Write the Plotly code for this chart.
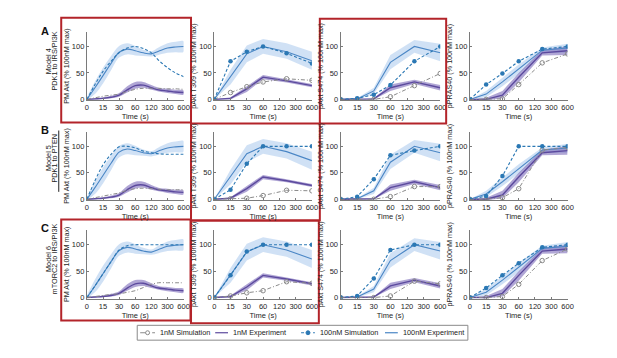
import numpy as np
import plotly.graph_objects as go

W, H = 617, 358
tick_s = [0, 15, 30, 60, 120, 300, 600]
tick_labels = ['0', '15', '30', '60', '120', '300', '600']
y_titles = ['PM Akt (% 100nM max)', 'pAkt T309 (% 100nM max)',
            'pAkt S474 (% 100nM max)', 'pPRAS40 (% 100nM max)']
row_letters = ['A', 'B', 'C']
model_names = ['Model 4', 'Model 5', 'Model 6']
model_desc = ['PDK1 to IRS/PI3K', 'PDK1 to PTEN', 'mTORC2 to IRS/PI3K']
legend_names = ['1nM Simulation', '1nM Experiment', '100nM Simulation', '100nM Experiment']

# ---- PM Akt (dense time course) ----
t_pm = [0, 7.5, 15, 22.5, 30, 45, 60, 90, 120, 200, 300, 450, 600]
pm_exp100 = [0, 22, 45, 68, 89, 95, 92, 88, 86, 91, 97, 99, 100]
pm_exp100_lo = [0, 10, 30, 55, 79, 85, 83, 82, 81, 84, 88, 89, 90]
pm_exp100_hi = [0, 34, 60, 82, 101, 106, 101, 94, 91, 98, 106, 109, 110]
pm_exp1 = [0, 1, 2, 4, 8, 18, 26, 27, 22, 18, 16, 14, 13]
pm_exp1_lo = [0, 0, 1, 2, 5, 13, 20, 22, 18, 15, 12, 10, 9]
pm_exp1_hi = [0, 2, 4, 7, 12, 25, 33, 33, 27, 22, 20, 18, 17]
pm_sim100 = [
    [0, 28, 53, 72, 88, 97, 100, 96, 88, 74, 60, 50, 43],
    [0, 35, 65, 85, 99, 100, 97, 91, 88, 86, 85, 85, 85],
    [0, 22, 45, 68, 90, 98, 100, 100, 100, 100, 100, 100, 100],
]
pm_sim1 = [
    [0, 3, 6, 8, 10, 15, 19, 21, 21, 21, 20, 20, 19],
    [0, 3, 6, 9, 12, 17, 20, 21, 20, 19, 18, 18, 18],
    [0, 2, 4, 6, 7, 10, 13, 19, 25, 28, 28, 28, 28],
]

# ---- phospho time points ----
t_ph = [0, 15, 30, 60, 200, 600]

t309_exp100 = [0, 42, 86, 100, 90, 73]
t309_exp100_lo = [0, 28, 70, 86, 77, 56]
t309_exp100_hi = [0, 56, 102, 114, 106, 90]
t309_exp1 = [0, 2, 20, 42, 35, 26]
t309_exp1_lo = [0, 0, 14, 38, 32, 23]
t309_exp1_hi = [0, 4, 25, 46, 38, 29]
t309_sim100 = [
    [0, 72, 90, 100, 87, 68],
    [0, 18, 67, 100, 100, 100],
    [0, 42, 87, 100, 100, 100],
]
t309_sim1 = [
    [0, 13, 24, 33, 39, 36],
    [0, 1, 2, 7, 17, 16],
    [0, 3, 9, 13, 30, 27],
]

s474_exp100 = [0, 1, 16, 70, 100, 88]
s474_exp100_lo = [0, 0, 10, 57, 88, 72]
s474_exp100_hi = [0, 2, 22, 84, 112, 105]
s474_exp1 = [0, 0, 1, 22, 33, 22]
s474_exp1_lo = [0, 0, 0, 16, 29, 17]
s474_exp1_hi = [0, 0, 2, 28, 37, 27]
s474_sim100 = [
    [0, 2, 9, 27, 72, 100],
    [0, 5, 38, 83, 92, 100],
    [0, 3, 36, 90, 100, 100],
]
s474_sim1 = [
    [0, 0, 0, 5, 26, 49],
    [0, 0, 0, 5, 24, 24],
    [0, 0, 0, 3, 31, 26],
]

pras_exp100 = [0, 10, 33, 57, 93, 97]
pras_exp100_lo = [0, 4, 25, 48, 88, 88]
pras_exp100_hi = [0, 16, 41, 66, 98, 105]
pras_exp1 = [0, 0, 8, 42, 88, 92]
pras_exp1_lo = [0, -2, 2, 32, 83, 84]
pras_exp1_hi = [0, 3, 16, 50, 94, 100]
pras_sim100 = [
    [0, 28, 49, 72, 95, 100],
    [0, 6, 44, 100, 100, 100],
    [0, 18, 42, 65, 95, 100],
]
pras_sim1 = [
    [0, 0, 1, 28, 69, 86],
    [0, 0, 3, 20, 93, 98],
    [0, 0, 2, 25, 70, 92],
]

# ---------------- styling ----------------
FONT = 'Liberation Sans, Arial, sans-serif'
C_BLUE = '#4a86c5'
C_BLUE_BAND = 'rgba(150,188,232,0.45)'
C_PURP = '#5c4a9e'
C_PURP_BAND = 'rgba(112,92,178,0.55)'
C_SIM100 = '#2b78b4'
C_SIM1 = '#8a8a8a'
C_RED = '#b3242a'
C_AX = '#7a7a7a'

col_x = [(86, 184), (215, 314), (343, 444), (474, 573)]
row_y = [(32, 101.6), (133, 202.6), (232.5, 302)]


def pos(t):
    return list(np.interp(t, tick_s, np.arange(len(tick_s))))


def px(x):
    return x / W


def py(y):
    return 1 - y / H


fig = go.Figure()


def band(t, lo, hi, color, ax, shape):
    xs = pos(t)
    fig.add_trace(go.Scatter(
        x=xs + xs[::-1], y=list(hi) + list(lo)[::-1], fill='toself',
        fillcolor=color, line=dict(width=0, shape=shape), mode='lines',
        hoverinfo='skip', showlegend=False, xaxis=ax[0], yaxis=ax[1]))


def line(t, y, color, ax, shape, dash='solid', width=1.2, marker=None):
    mode = 'lines+markers' if marker else 'lines'
    fig.add_trace(go.Scatter(
        x=pos(t), y=y, mode=mode,
        line=dict(color=color, width=width, dash=dash, shape=shape),
        marker=marker, showlegend=False, xaxis=ax[0], yaxis=ax[1]))


panel_data = [
    (t_pm, pm_exp100, pm_exp100_lo, pm_exp100_hi, pm_exp1, pm_exp1_lo, pm_exp1_hi, pm_sim100, pm_sim1),
    (t_ph, t309_exp100, t309_exp100_lo, t309_exp100_hi, t309_exp1, t309_exp1_lo, t309_exp1_hi, t309_sim100, t309_sim1),
    (t_ph, s474_exp100, s474_exp100_lo, s474_exp100_hi, s474_exp1, s474_exp1_lo, s474_exp1_hi, s474_sim100, s474_sim1),
    (t_ph, pras_exp100, pras_exp100_lo, pras_exp100_hi, pras_exp1, pras_exp1_lo, pras_exp1_hi, pras_sim100, pras_sim1),
]

SIM100_DASH = '3px,2px'
SIM1_DASH = '4px,2px,1px,2px'

layout_axes = {}
for r in range(3):
    for c in range(4):
        k = r * 4 + c + 1
        xa = 'x' if k == 1 else f'x{k}'
        ya = 'y' if k == 1 else f'y{k}'
        ax = (xa, ya)
        t, e100, e100lo, e100hi, e1, e1lo, e1hi, s100, s1 = panel_data[c]
        shape = 'spline' if c == 0 else 'linear'
        band(t, e100lo, e100hi, C_BLUE_BAND, ax, shape)
        band(t, e1lo, e1hi, C_PURP_BAND, ax, shape)
        line(t, e100, C_BLUE, ax, shape, width=1.1)
        line(t, e1, C_PURP, ax, shape, width=1.4)
        if c == 0:
            line(t, s1[r], C_SIM1, ax, shape, dash=SIM1_DASH, width=1.0)
            line(t, s100[r], C_SIM100, ax, shape, dash=SIM100_DASH, width=1.1)
        else:
            line(t, s1[r], C_SIM1, ax, shape, dash=SIM1_DASH, width=1.0,
                 marker=dict(symbol='circle-open', size=4.5, color=C_SIM1, line=dict(width=1)))
            line(t, s100[r], C_SIM100, ax, shape, dash=SIM100_DASH, width=1.1,
                 marker=dict(symbol='circle', size=4.5, color=C_SIM100))
        x0, x1 = col_x[c]
        y0, y1 = row_y[r]
        xname = 'xaxis' if k == 1 else f'xaxis{k}'
        yname = 'yaxis' if k == 1 else f'yaxis{k}'
        layout_axes[xname] = dict(
            domain=[px(x0), px(x1)], range=[0, 6], anchor=ya,
            tickmode='array', tickvals=list(range(7)), ticktext=tick_labels,
            showline=True, linecolor=C_AX, linewidth=1, ticks='inside', ticklen=2,
            tickcolor=C_AX, showgrid=False, zeroline=False,
            tickfont=dict(family=FONT, size=7.5, color='#262626'),
            title=dict(text='Time (s)', standoff=1,
                       font=dict(family=FONT, size=7.5, color='#262626')))
        layout_axes[yname] = dict(
            domain=[py(y1), py(y0)], range=[-2, 128], anchor=xa,
            tickmode='array', tickvals=[0, 50, 100],
            showline=True, linecolor=C_AX, linewidth=1, ticks='inside', ticklen=2,
            tickcolor=C_AX, showgrid=False, zeroline=False,
            tickfont=dict(family=FONT, size=7.5, color='#262626'),
            title=dict(text=y_titles[c], standoff=1,
                       font=dict(family=FONT, size=7.2, color='#262626')))

annotations = []
shapes = []

# Row labels
row_letter_y = [31, 131, 231]
row_text_y = [62, 160, 262]
for r in range(3):
    annotations.append(dict(text=f'<b>{row_letters[r]}</b>', x=px(44), y=py(row_letter_y[r]),
                            xref='paper', yref='paper', showarrow=False,
                            xanchor='center', yanchor='middle',
                            font=dict(family=FONT, size=11, color='#111')))
    annotations.append(dict(text=model_names[r], x=px(46.5), y=py(row_text_y[r]),
                            xref='paper', yref='paper', showarrow=False, textangle=-90,
                            xanchor='center', yanchor='middle',
                            font=dict(family=FONT, size=7.3, color='#222')))
    annotations.append(dict(text=model_desc[r], x=px(53), y=py(row_text_y[r]),
                            xref='paper', yref='paper', showarrow=False, textangle=-90,
                            xanchor='center', yanchor='middle',
                            font=dict(family=FONT, size=7.3, color='#222')))

# separator line in row B
shapes.append(dict(type='line', xref='paper', yref='paper', x0=px(57.5), x1=px(57.5),
                   y0=py(132), y1=py(194), line=dict(color='#222', width=1)))

# red highlight boxes
red_boxes = [(60, 18, 191.5, 124), (322, 19, 450, 125), (191.5, 125, 322, 223),
             (60, 222, 191, 324), (191.5, 223, 321, 327)]
for (bx0, by0, bx1, by1) in red_boxes:
    shapes.append(dict(type='rect', xref='paper', yref='paper', x0=px(bx0), x1=px(bx1),
                       y0=py(by1), y1=py(by0), line=dict(color=C_RED, width=2), layer='above'))

# legend (manual)
shapes.append(dict(type='rect', xref='paper', yref='paper', x0=px(137), x1=px(472),
                   y0=py(344), y1=py(329), line=dict(color='#8a8a8a', width=1)))
ly = 336.5
leg_items = [
    (140, 155, C_SIM1, 'dashdot', 'open', 158),
    (216, 229, C_PURP, 'solid', None, 232),
    (303, 317, C_SIM100, 'dot', 'filled', 320),
    (388, 401, C_BLUE, 'solid', None, 404),
]
for i, (lx0, lx1, col, dash, mk, tx) in enumerate(leg_items):
    shapes.append(dict(type='line', xref='paper', yref='paper', x0=px(lx0), x1=px(lx1),
                       y0=py(ly), y1=py(ly), line=dict(color=col, width=1.2, dash=dash)))
    if mk:
        cx = (lx0 + lx1) / 2
        shapes.append(dict(type='circle', xref='paper', yref='paper',
                           x0=px(cx - 2), x1=px(cx + 2), y0=py(ly + 2), y1=py(ly - 2),
                           fillcolor=(col if mk == 'filled' else 'white'),
                           line=dict(color=col, width=1)))
    annotations.append(dict(text=legend_names[i], x=px(tx), y=py(ly), xref='paper', yref='paper',
                            xanchor='left', yanchor='middle', showarrow=False,
                            font=dict(family=FONT, size=7.3, color='#222')))

fig.update_layout(
    width=W, height=H, margin=dict(l=0, r=0, t=0, b=0),
    paper_bgcolor='white', plot_bgcolor='white', showlegend=False,
    annotations=annotations, shapes=shapes, **layout_axes)

fig.write_html('out.html', config={'displayModeBar': False},
               post_script="document.body.style.margin='0px';document.body.style.padding='0px';"
                           "document.body.style.overflow='hidden';")
